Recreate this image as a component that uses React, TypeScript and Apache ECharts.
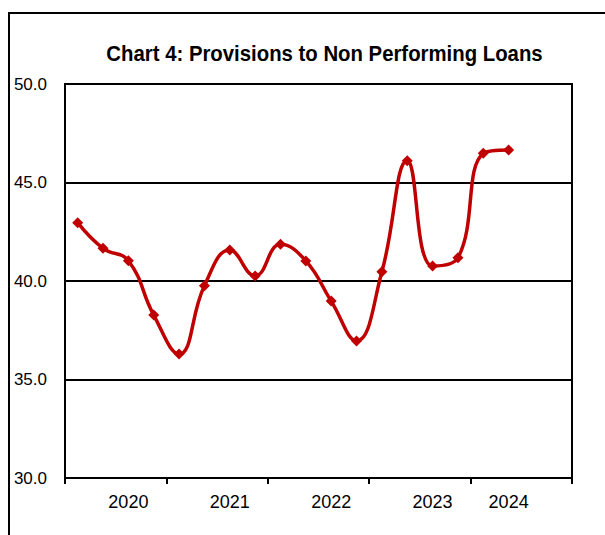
import React, { useEffect, useRef } from "react";
import * as echarts from "echarts";

const TITLE = "Chart 4: Provisions to Non Performing Loans";
const categories = [
  "", "", "2020", "", "", "", "2021", "", "", "", "2022", "", "", "", "2023", "", "", "2024", "", "",
];
const values = [
  42.96, 41.66, 41.03, 38.27, 36.29, 39.76, 41.57, 40.26, 41.86, 41.02, 38.98, 36.95, 40.47, 46.1,
  40.76, 41.18, 46.48, 46.65,
];
const yMin = 30;
const yMax = 50;
const yStep = 5;

export default function App() {
  const ref = useRef<HTMLDivElement>(null);
  useEffect(() => {
    if (!ref.current) return;
    const chart = echarts.init(ref.current, null, { renderer: "svg" });
    chart.setOption({
      animation: false,
      backgroundColor: "#fff",
      grid: {
        left: 65,
        right: 33,
        top: 84,
        bottom: 57,
        show: true,
        borderColor: "#000",
        borderWidth: 2,
        backgroundColor: "transparent",
      },
      graphic: [
        {
          type: "polyline",
          shape: { points: [[9, 540], [9, 13], [610, 13]] },
          style: { stroke: "#000", lineWidth: 2, fill: null },
        },
        {
          type: "text",
          x: 324.5,
          y: 53,
          scaleX: 0.885,
          style: {
            text: TITLE,
            fontFamily: "'Liberation Sans', Arial, sans-serif",
            fontWeight: "bold",
            fontSize: 23,
            fill: "#000",
            align: "center",
            verticalAlign: "middle",
          },
        },
      ],
      xAxis: {
        type: "category",
        data: categories,
        boundaryGap: true,
        axisLine: { show: true, lineStyle: { color: "#000", width: 2 } },
        axisTick: {
          show: true,
          length: 6,
          interval: (i: number) => i % 4 === 0,
          lineStyle: { color: "#000", width: 2 },
        },
        axisLabel: {
          interval: 0,
          color: "#000",
          fontSize: 18,
          fontFamily: "'Liberation Sans', Arial, sans-serif",
          margin: 15,
        },
        splitLine: { show: false },
      },
      yAxis: {
        type: "value",
        min: yMin,
        max: yMax,
        interval: yStep,
        axisLine: { show: true, lineStyle: { color: "#000", width: 2 } },
        axisTick: { show: false },
        axisLabel: {
          color: "#000",
          fontSize: 17,
          fontFamily: "'Liberation Sans', Arial, sans-serif",
          margin: 18,
          formatter: (v: number) => v.toFixed(1),
        },
        splitLine: { show: true, lineStyle: { color: "#000", width: 2 } },
      },
      series: [
        {
          type: "line",
          data: values,
          smooth: 0.45,
          symbol: "diamond",
          symbolSize: 11,
          itemStyle: { color: "#C00000" },
          lineStyle: { color: "#C00000", width: 3.5 },
        },
      ],
    });
    return () => chart.dispose();
  }, []);
  return <div ref={ref} style={{ width: 605, height: 535, position: "absolute", left: 0, top: 0 }} />;
}
